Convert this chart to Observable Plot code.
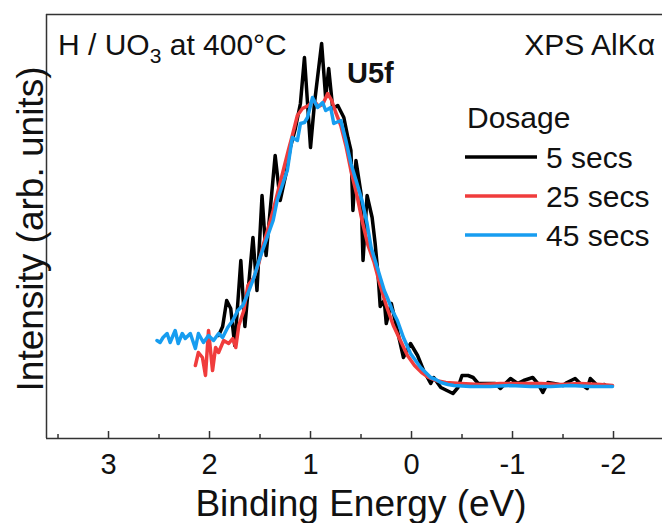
<!DOCTYPE html>
<html><head><meta charset="utf-8">
<script src="https://cdn.jsdelivr.net/npm/d3@7"></script>
<script src="https://cdn.jsdelivr.net/npm/@observablehq/plot@0.6"></script>
<style>body{margin:0;background:#fff} #chart{position:relative;width:662px;height:523px;overflow:hidden}</style>
</head><body><div id="chart"></div>
<script>
// 5 secs (black)
const energy5 = [1.91,1.87,1.83,1.79,1.75,1.69,1.65,1.57,1.53,1.48,1.44,1.35,1.30,1.24,1.20,1.15,1.10,1.06,1.00,0.96,0.89,0.85,0.82,0.78,0.73,0.67,0.63,0.60,0.58,0.55,0.50,0.48,0.44,0.39,0.36,0.33,0.31,0.27,0.25,0.20,0.14,0.08,0.01,-0.06,-0.12,-0.19,-0.22,-0.29,-0.35,-0.41,-0.46,-0.50,-0.56,-0.61,-0.66,-0.75,-0.83,-0.88,-0.93,-0.98,-1.05,-1.11,-1.20,-1.25,-1.30,-1.35,-1.41,-1.50,-1.54,-1.62,-1.67,-1.74,-1.77,-1.84,-1.91];
const int5 = [51,60,86,78,41,126,60,149,96,191,131,231,186,214,239,258,283,329,239,284,343,289,318,278,281,269,249,236,176,226,193,126,191,169,143,110,80,86,63,83,56,29,43,31,16,3,9,-1,-4,-7,-1,11,11,9,3,3,3,-2,3,8,3,6,9,3,-6,4,3,1,4,8,3,-2,8,1,2];
// 25 secs (red)
const energy25 = [2.14,2.11,2.07,2.04,2.01,1.97,1.94,1.91,1.86,1.81,1.77,1.74,1.71,1.66,1.62,1.56,1.51,1.47,1.42,1.37,1.32,1.27,1.22,1.18,1.13,1.08,1.02,0.97,0.92,0.88,0.83,0.79,0.75,0.70,0.65,0.60,0.54,0.49,0.43,0.37,0.31,0.25,0.18,0.11,0.04,-0.03,-0.10,-0.17,-0.24,-0.34,-0.49,-0.68,-0.88,-1.08,-1.28,-1.48,-1.67,-1.87,-1.99];
const int25 = [21,34,29,11,56,16,39,34,46,43,48,39,61,76,101,109,124,141,158,176,196,216,236,251,271,278,281,286,280,282,293,286,274,261,241,216,191,166,141,124,101,81,61,46,31,21,14,9,6,4,3,2,3,3,3,2,3,2,1];
// 45 secs (blue)
const energy45 = [2.52,2.49,2.46,2.42,2.39,2.34,2.31,2.27,2.24,2.19,2.14,2.11,2.06,2.01,1.96,1.91,1.87,1.82,1.77,1.72,1.67,1.62,1.56,1.50,1.43,1.37,1.33,1.28,1.23,1.20,1.18,1.13,1.10,1.06,1.03,0.98,0.93,0.88,0.85,0.80,0.77,0.70,0.65,0.60,0.54,0.49,0.44,0.40,0.33,0.27,0.24,0.19,0.14,0.08,0.01,-0.04,-0.09,-0.14,-0.19,-0.24,-0.29,-0.36,-0.42,-0.58,-0.78,-0.98,-1.18,-1.38,-1.57,-1.77,-1.99];
const int45 = [46,44,49,53,44,56,43,53,48,53,38,53,44,51,46,53,49,59,66,76,81,93,109,129,149,166,186,201,216,236,249,246,263,264,269,289,279,284,276,279,263,266,246,223,203,186,163,139,116,96,89,76,66,49,33,26,19,14,9,7,4,2,1,0,0,1,0,0,1,0,0];

const seriesNames = ["5 secs", "25 secs", "45 secs"];
const seriesColors = ["#000000", "#f03c3c", "#179df0"];
const majorTicks = [3, 2, 1, 0, -1, -2];
const tickLabels = ["3", "2", "1", "0", "-1", "-2"];
const minorTicks = [3.5, 2.5, 1.5, 0.5, -0.5, -1.5];
const xDomain = [3.614, -2.485];
const yDomain = [-52, 372];

const rows = [];
[[energy5, int5], [energy25, int25], [energy45, int45]].forEach(([e, v], k) =>
  e.forEach((x, i) => rows.push({E: x, I: v[i], s: seriesNames[k]})));

const W = 662, H = 523, mL = 46, mR = 0, mT = 14, mB = 85;
const pxPerUnitY = (H - mT - mB) / (yDomain[1] - yDomain[0]);
const font = "'Liberation Sans', Arial, Helvetica, sans-serif";
const frameColor = "#333";

const plot = Plot.plot({
  width: W, height: H, marginLeft: mL, marginRight: mR, marginTop: mT, marginBottom: mB,
  x: {domain: xDomain, axis: null},
  y: {domain: yDomain, axis: null},
  color: {domain: seriesNames, range: seriesColors},
  style: {fontFamily: font, background: "#fff", overflow: "visible"},
  marks: [
    Plot.line(rows, {x: "E", y: "I", z: "s", stroke: "s", strokeWidth: 3.5, strokeLinejoin: "round", strokeLinecap: "round"}),
    Plot.ruleY([yDomain[0], yDomain[1]], {stroke: frameColor, strokeWidth: 1.5}),
    Plot.ruleX([xDomain[0]], {stroke: frameColor, strokeWidth: 1.5}),
    Plot.ruleX(majorTicks, {x: d => d, y1: yDomain[0], y2: yDomain[0] + 7 / pxPerUnitY, stroke: frameColor, strokeWidth: 1.5}),
    Plot.ruleX(minorTicks, {x: d => d, y1: yDomain[0], y2: yDomain[0] + 4 / pxPerUnitY, stroke: frameColor, strokeWidth: 1.5}),
    Plot.text(majorTicks, {x: d => d, y: yDomain[0], text: (d, i) => tickLabels[i], dy: 26, fontSize: 29, lineAnchor: "middle", fill: "#111"})
  ]
});
document.getElementById("chart").appendChild(plot);

const svg = d3.select(plot);
const g = svg.append("g").attr("font-family", font).attr("fill", "#111").attr("text-anchor", "start");
// axis titles
g.append("text").attr("x", 361).attr("y", 516).attr("text-anchor", "middle").attr("font-size", 37).text("Binding Energy (eV)");
g.append("text").attr("transform", "translate(43,229) rotate(-90)").attr("text-anchor", "middle").attr("font-size", 37).text("Intensity (arb. units)");
// annotations
const t1 = g.append("text").attr("x", 58).attr("y", 55).attr("font-size", 30).attr("text-anchor", "start");
t1.append("tspan").text("H / UO");
t1.append("tspan").attr("font-size", 21).attr("dy", 8).text("3");
t1.append("tspan").attr("dy", -8).text(" at 400°C");
g.append("text").attr("x", 655).attr("y", 55).attr("text-anchor", "end").attr("font-size", 30).text("XPS AlKα");
g.append("text").attr("x", 347).attr("y", 83).attr("font-size", 29).attr("font-weight", "bold").attr("text-anchor", "start").text("U5f");
// legend
g.append("text").attr("x", 467).attr("y", 128).attr("font-size", 30).attr("text-anchor", "start").text("Dosage");
const legY = [157, 196, 235];
seriesNames.forEach((name, i) => {
  g.append("line").attr("x1", 465).attr("x2", 537).attr("y1", legY[i]).attr("y2", legY[i])
    .attr("stroke", seriesColors[i]).attr("stroke-width", 3.5);
  g.append("text").attr("x", 546).attr("y", legY[i] + 11).attr("font-size", 30).attr("text-anchor", "start").text(name);
});
</script>
</body></html>
